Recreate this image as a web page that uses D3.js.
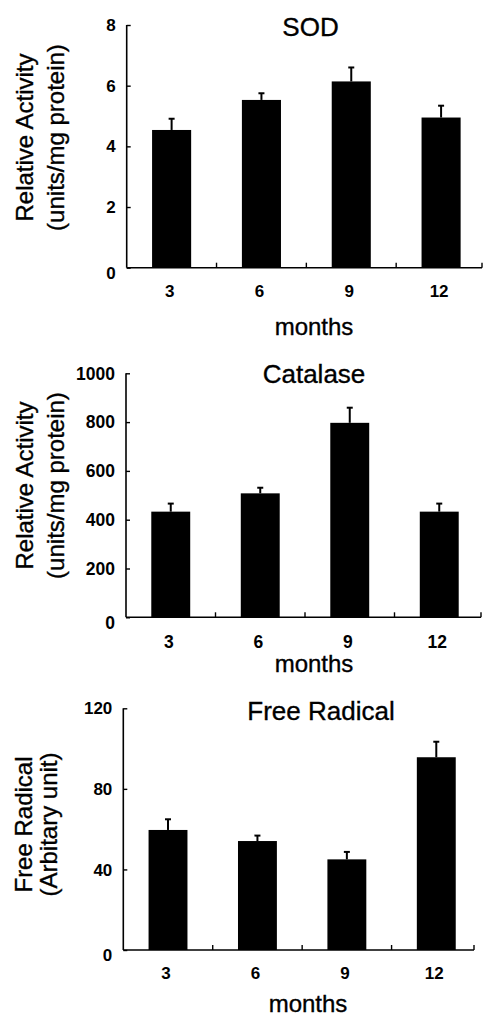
<!DOCTYPE html>
<html>
<head>
<meta charset="utf-8">
<script src="https://cdn.jsdelivr.net/npm/d3@7"></script>
<style>
  html, body { margin: 0; padding: 0; background: #fff; }
  svg { display: block; }
  text { font-family: "Liberation Sans", Arial, Helvetica, sans-serif; fill: #000; }
  text.lab { stroke: #000; stroke-width: 0.35px; }
</style>
</head>
<body>
<svg id="chart" width="485" height="1017"></svg>
<script>
// ---- data ----
const months = ["3", "6", "9", "12"];

const sodValues = [4.54, 5.53, 6.14, 4.95];
const sodErrors = [0.37, 0.22, 0.46, 0.39];
const sodTicks = [0, 2, 4, 6, 8];

const catalaseValues = [433, 508, 797, 433];
const catalaseErrors = [33, 23, 62, 33];
const catalaseTicks = [0, 200, 400, 600, 800, 1000];

const radicalValues = [59.6, 54.1, 45.0, 95.7];
const radicalErrors = [5.3, 2.7, 3.7, 7.7];
const radicalTicks = [0, 40, 80, 120];

const titles = ["SOD", "Catalase", "Free Radical"];
const yLabels = [
  ["Relative Activity", "(units/mg protein)"],
  ["Relative Activity", "(units/mg protein)"],
  ["Free Radical", "(Arbitary unit)"]
];
const xLabel = "months";

// ---- layout (positions only) ----
const panels = [
  { values: sodValues, errors: sodErrors, ticks: sodTicks,
    x0: 126.7, x1: 486, axisEnd: 482, yTop: 25, yZero: 267.7,
    tickFont: 17,
    titleX: 310.5, titleY: 36, lab1X: 33, lab2X: 63.5, labY: 137.5,
    xTickY: 297, xLabY: 335, xLabX: 314 },
  { values: catalaseValues, errors: catalaseErrors, ticks: catalaseTicks,
    x0: 126, x1: 484, axisEnd: 481, yTop: 373.3, yZero: 617.3,
    tickFont: 17.5,
    titleX: 314, titleY: 383, lab1X: 32.7, lab2X: 64, labY: 485.5,
    xTickY: 648, xLabY: 672, xLabX: 314 },
  { values: radicalValues, errors: radicalErrors, ticks: radicalTicks,
    x0: 123.3, x1: 481, axisEnd: 474, yTop: 708.3, yZero: 950,
    tickFont: 17,
    titleX: 321, titleY: 720, lab1X: 31.5, lab2X: 57, labY: 824.5,
    xTickY: 979, xLabY: 1012, xLabX: 308 }
];

const svg = d3.select("#chart");

panels.forEach((p, pi) => {
  const g = svg.append("g");
  const ticks = p.ticks;
  const yMax = ticks[ticks.length - 1];

  const x = d3.scaleBand()
    .domain(months)
    .range([p.x0, p.x1])
    .paddingInner(0.565)
    .paddingOuter(0.2825);

  const y = d3.scaleLinear()
    .domain([0, yMax])
    .range([p.yZero, p.yTop]);

  const step = x.step();
  const bw = x.bandwidth();

  // bars
  g.selectAll("rect.bar")
    .data(months)
    .join("rect")
    .attr("class", "bar")
    .attr("x", d => x(d))
    .attr("width", bw)
    .attr("y", (d, i) => y(p.values[i]))
    .attr("height", (d, i) => y(0) - y(p.values[i]))
    .attr("fill", "#000");

  // error bars (upper only)
  const eg = g.selectAll("g.err")
    .data(months)
    .join("g")
    .attr("class", "err");
  eg.append("line")
    .attr("x1", d => x(d) + bw / 2)
    .attr("x2", d => x(d) + bw / 2)
    .attr("y1", (d, i) => y(p.values[i]))
    .attr("y2", (d, i) => y(p.values[i] + p.errors[i]))
    .attr("stroke", "#000")
    .attr("stroke-width", 2);
  eg.append("line")
    .attr("x1", d => x(d) + bw / 2 - 3)
    .attr("x2", d => x(d) + bw / 2 + 3)
    .attr("y1", (d, i) => y(p.values[i] + p.errors[i]))
    .attr("y2", (d, i) => y(p.values[i] + p.errors[i]))
    .attr("stroke", "#000")
    .attr("stroke-width", 2);

  // y axis (ticks inward, labels drawn separately)
  const yAxis = d3.axisRight(y)
    .tickValues(ticks)
    .tickSize(4)
    .tickFormat("");
  const ya = g.append("g")
    .attr("transform", `translate(${p.x0},0)`)
    .call(yAxis);
  ya.select(".domain")
    .attr("d", `M0,${y(yMax)}V${y(0)}`)
    .attr("stroke", "#000")
    .attr("stroke-width", 1.6);
  ya.selectAll(".tick line").attr("stroke", "#000").attr("stroke-width", 1.4);

  // y tick labels
  g.selectAll("text.ytick")
    .data(ticks)
    .join("text")
    .attr("class", "ytick")
    .attr("x", p.x0 - 11)
    .attr("y", d => y(d) + (d === 0 ? 5 : 0))
    .attr("dy", "0.36em")
    .attr("text-anchor", "end")
    .attr("font-size", p.tickFont)
    .attr("font-weight", "bold")
    .text(d => d);

  // x axis line
  g.append("line")
    .attr("x1", p.x0)
    .attr("x2", p.axisEnd)
    .attr("y1", y(0))
    .attr("y2", y(0))
    .attr("stroke", "#000")
    .attr("stroke-width", 1.6);

  // category divider ticks (pointing up)
  const dividers = months.map((d, i) => i === months.length - 1
    ? p.axisEnd
    : x(d) + bw / 2 + step / 2);
  g.selectAll("line.div")
    .data(dividers)
    .join("line")
    .attr("class", "div")
    .attr("x1", d => d)
    .attr("x2", d => d)
    .attr("y1", y(0))
    .attr("y2", y(0) - 5)
    .attr("stroke", "#000")
    .attr("stroke-width", 1.4);

  // x tick labels
  g.selectAll("text.xtick")
    .data(months)
    .join("text")
    .attr("class", "xtick")
    .attr("x", d => x(d) + bw / 2 - 2)
    .attr("y", p.xTickY)
    .attr("text-anchor", "middle")
    .attr("font-size", p.tickFont)
    .attr("font-weight", "bold")
    .text(d => d);

  // x label
  g.append("text")
    .attr("class", "lab")
    .attr("x", p.xLabX)
    .attr("y", p.xLabY)
    .attr("text-anchor", "middle")
    .attr("font-size", 24)
    .text(xLabel);

  // title
  g.append("text")
    .attr("class", "lab")
    .attr("x", p.titleX)
    .attr("y", p.titleY)
    .attr("text-anchor", "middle")
    .attr("font-size", 26)
    .text(titles[pi]);

  // y label (two lines, rotated)
  g.append("text")
    .attr("class", "lab")
    .attr("transform", `translate(${p.lab1X},${p.labY}) rotate(-90)`)
    .attr("text-anchor", "middle")
    .attr("font-size", 24)
    .text(yLabels[pi][0]);
  g.append("text")
    .attr("class", "lab")
    .attr("transform", `translate(${p.lab2X},${p.labY}) rotate(-90)`)
    .attr("text-anchor", "middle")
    .attr("font-size", 24)
    .text(yLabels[pi][1]);
});
</script>
</body>
</html>
